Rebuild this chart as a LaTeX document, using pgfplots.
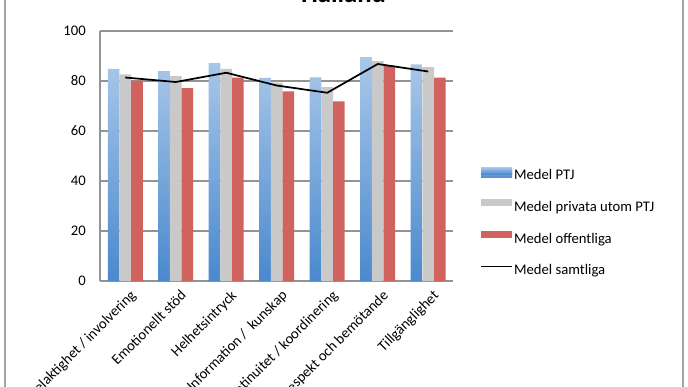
\documentclass[border=0pt]{standalone}
\usepackage{fontspec}
\setmainfont{Carlito}
\usepackage{pgfplots}
\pgfplotsset{compat=1.18}
\definecolor{bluetop}{HTML}{AAC8EA}
\definecolor{bluebot}{HTML}{4A89CD}
\definecolor{grayfill}{HTML}{C9C9C9}
\definecolor{redfill}{HTML}{D0635D}
\definecolor{gridgray}{HTML}{939393}
\definecolor{bordergray}{HTML}{A6A6A6}
\newcommand{\lblfont}{\fontsize{11}{13}\selectfont}
\begin{document}
\begin{tikzpicture}
\path[use as bounding box] (0pt,0pt) rectangle (516pt,289.5pt);
\clip (0pt,0pt) rectangle (516pt,289.5pt);
\draw[bordergray, line width=1.3pt] (3.75pt,-20pt) rectangle (512.25pt,320pt);
\node[font=\fontsize{20}{24}\selectfont\bfseries, anchor=base] at (257.6pt,287.25pt) {Halland};
\begin{axis}[
  at={(75pt,78.75pt)}, anchor=south west,
  scale only axis, width=265.125pt, height=187.5pt,
  xmin=-0.5, xmax=6.5, ymin=0, ymax=100,
  axis x line*=bottom, axis y line*=left,
  axis line style={draw=gridgray, line width=1.1pt},
  ytick={0,20,40,60,80,100},
  ymajorgrids, grid style={draw=gridgray, line width=1.1pt},
  major tick length=0pt,
  xtick={0,1,2,3,4,5,6},
  xticklabels={Delaktighet / involvering, Emotionellt stöd, Helhetsintryck, Information /\ \ kunskap, Kontinuitet / koordinering, Respekt och bemötande, Tillgänglighet},
  xticklabel style={xshift=3pt, yshift=-4.5pt, rotate=45, anchor=north east, inner sep=1pt, font=\lblfont},
  yticklabel style={font=\lblfont, inner sep=0pt, xshift=-10.5pt},
  /pgf/number format/assume math mode=true,
  legend style={draw=none, fill=none, at={(axis description cs:1.0637,0.4667)}, anchor=north west,
    nodes={inner sep=0pt, text height=8pt, text depth=2.5pt, font=\lblfont},
    row sep=11.75pt, column sep=1pt},
  legend cell align=left,
]
\addplot[ybar, bar width=8.75pt, bar shift=-8.75pt, draw=none, top color=bluetop, bottom color=bluebot,
  legend image code/.code={\path[draw=none,fill=none] (0pt,-1.25pt) rectangle (23.25pt,6.75pt); \fill[top color=bluetop, bottom color=bluebot] (0pt,1.5pt) rectangle (23.25pt,6.75pt);}]
  coordinates {(0,84.9) (1,84.0) (2,87.2) (3,81.3) (4,81.5) (5,89.6) (6,86.7)};
\addlegendentry{Medel PTJ}
\addplot[ybar, bar width=8.75pt, bar shift=0pt, draw=none, fill=grayfill,
  legend image code/.code={\path[draw=none,fill=none] (0pt,-1.25pt) rectangle (23.25pt,6.75pt); \fill[grayfill] (0pt,1.5pt) rectangle (23.25pt,6.75pt);}]
  coordinates {(0,82.7) (1,82.0) (2,84.9) (3,79.4) (4,77.6) (5,88.0) (6,85.6)};
\addlegendentry{Medel privata utom PTJ}
\addplot[ybar, bar width=8.75pt, bar shift=8.75pt, draw=none, fill=redfill,
  legend image code/.code={\path[draw=none,fill=none] (0pt,-1.25pt) rectangle (23.25pt,6.75pt); \fill[redfill] (0pt,1.5pt) rectangle (23.25pt,6.75pt);}]
  coordinates {(0,80.2) (1,77.2) (2,81.4) (3,75.9) (4,71.9) (5,86.3) (6,81.4)};
\addlegendentry{Medel offentliga}
\addplot[black, line width=1.3pt, mark=none,
  legend image code/.code={\path[draw=none,fill=none] (0pt,-1.25pt) rectangle (23.25pt,6.75pt); \draw[black, line width=1.1pt] (0pt,3.75pt) -- (23.25pt,3.75pt);}]
  coordinates {(0,81.4) (1,79.6) (2,83.3) (3,78.2) (4,75.3) (5,86.8) (6,83.8)};
\addlegendentry{Medel samtliga}
\end{axis}
\end{tikzpicture}
\end{document}
